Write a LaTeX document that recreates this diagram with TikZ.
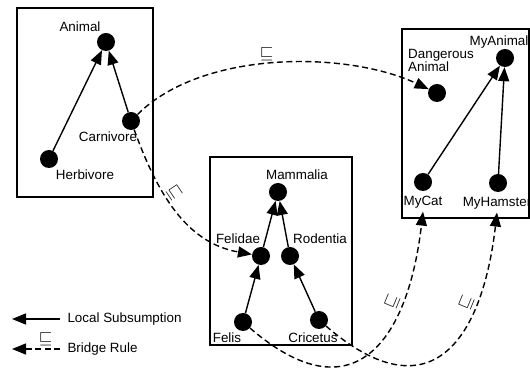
\documentclass[tikz,border=0pt]{standalone}
\usepackage{fontspec}
\setmainfont{Liberation Sans}
\usetikzlibrary{arrows.meta}

\begin{document}
\begin{tikzpicture}[
    x=1pt, y=1pt,
    font=\fontsize{13.4}{15}\selectfont,
    dot/.style={circle, fill=black, inner sep=0pt, minimum size=18pt},
    box/.style={draw, line width=2pt},
    sub/.style={-{Triangle[length=14pt, width=11pt]}, line width=1.4pt},
    bridge/.style={sub, dash pattern=on 6pt off 3.5pt},
    rel/.style={inner sep=2pt, font=\fontsize{17}{17}\selectfont}
]
    \useasboundingbox (0,0) rectangle (530,369);

    % Boxes
    \draw[box] (17,172) rectangle (153,361);
    \draw[box] (210,24) rectangle (352,212);
    \draw[box] (402,151) rectangle (529,340);

    % Left box
    \node[dot] (animal) at (106,327) {};
    \node (animallbl) at (80,342) {Animal};
    \node[dot] (carnivore) at (131,248) {};
    \node (carnivorelbl) at (108,232) {Carnivore};
    \node[dot] (herbivore) at (49,210) {};
    \node (herbivorelbl) at (85,194) {Herbivore};

    % Middle box
    \node[dot] (mammalia) at (278,177) {};
    \node (mammalialbl) at (297,194) {Mammalia};
    \node[dot] (felidae) at (261,113) {};
    \node (felidaelbl) at (238,130) {Felidae};
    \node[dot] (rodentia) at (290,113) {};
    \node (rodentialbl) at (320,130) {Rodentia};
    \node[dot] (felis) at (243,47) {};
    \node (felislbl) at (227,31) {Felis};
    \node[dot] (cricetus) at (319,49) {};
    \node (cricetuslbl) at (313,31) {Cricetus};

    % Right box
    \node[dot] (myanimal) at (505,311) {};
    \node (myanimallbl) at (499,327) {MyAnimal};
    \node[dot] (dangerous) at (437,276) {};
    \node[anchor=west, align=left, inner sep=0pt] (dangerouslbl) at (408,309)
        {Dangerous\\[-2pt]Animal};
    \node[dot] (mycat) at (423,187) {};
    \node (mycatlbl) at (423,167) {MyCat};
    \node[dot] (myhamster) at (498,186) {};
    \node (myhamsterlbl) at (497,166) {MyHamster};

    % Local subsumption
    \draw[sub] (herbivore) -- (animal);
    \draw[sub] (carnivore) -- (animal);
    \draw[sub] (felidae) -- (mammalia);
    \draw[sub] (rodentia) -- (mammalia);
    \draw[sub] (felis) -- (felidae);
    \draw[sub] (cricetus) -- (rodentia);
    \draw[sub] (mycat) -- (myanimal);
    \draw[sub] (myhamster) -- (myanimal);

    % Bridge rules
    \draw[bridge] (carnivore) to[out=45, in=155, looseness=0.8]
        node[rel, pos=0.47, above] {$\sqsubseteq$} (dangerous);
    \draw[bridge] (carnivore) to[out=-70, in=170]
        node[rel, pos=0.4, above, sloped] {$\sqsubseteq$} (felidae);
    \draw[bridge] (felis) .. controls +(110,-95) and +(-15,-130) ..
        node[rel, pos=0.72, above, sloped] {$\sqsubseteq$} (mycatlbl.south);
    \draw[bridge] (cricetus) .. controls +(110,-95) and +(-15,-130) ..
        node[rel, pos=0.72, above, sloped] {$\sqsubseteq$} (myhamsterlbl.south);

    % Legend
    \coordinate (ls1) at (60,50);
    \coordinate (ls2) at (12,50);
    \coordinate (br1) at (60,20);
    \coordinate (br2) at (12,20);
    \draw[sub] (ls1) -- (ls2);
    \node[anchor=west] (lslbl) at (64,50) {Local Subsumption};
    \draw[bridge] (br1) -- node[rel, pos=0.3, above] {$\sqsubseteq$} (br2);
    \node[anchor=west] (brlbl) at (64,20) {Bridge Rule};
\end{tikzpicture}
\end{document}
